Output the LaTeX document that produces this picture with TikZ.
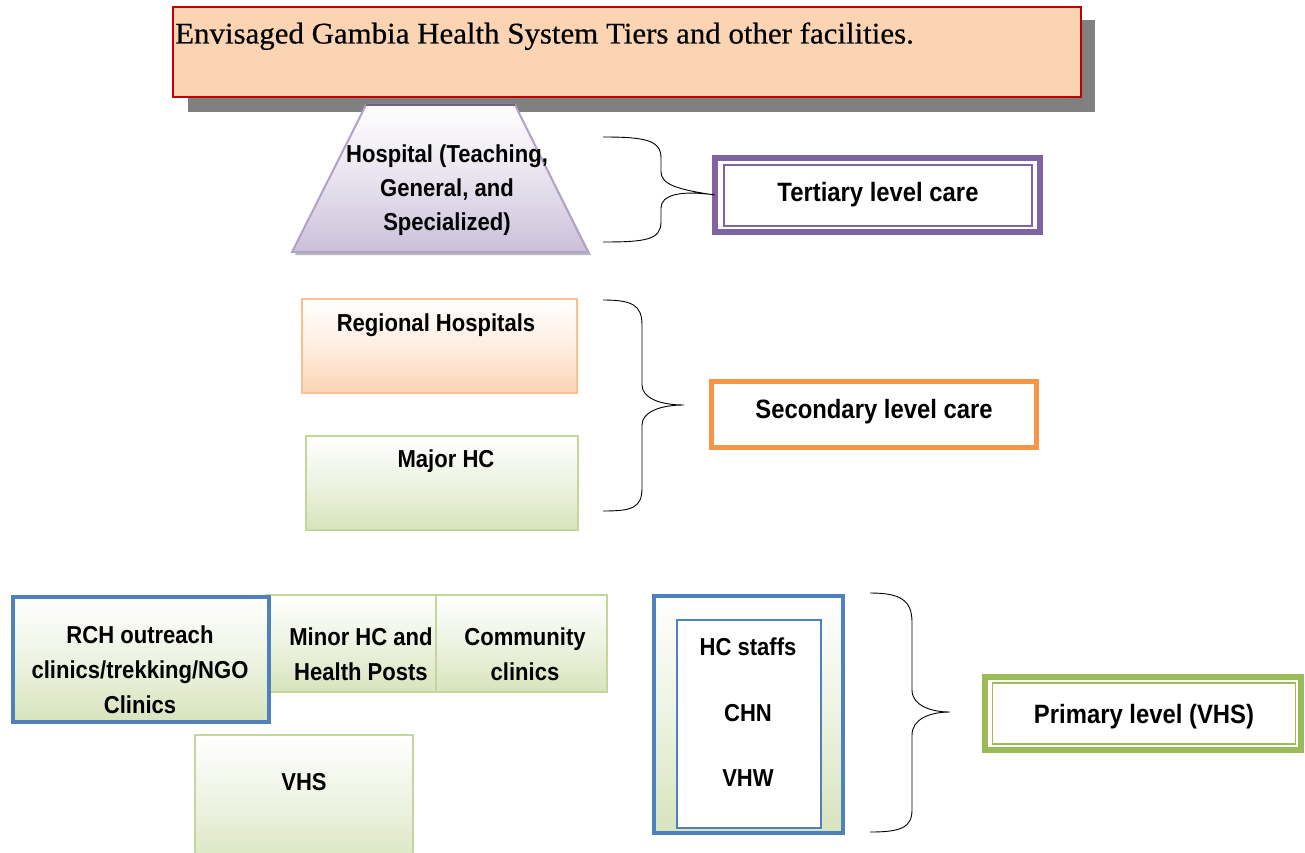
\documentclass[tikz,border=0pt]{standalone}
\usepackage{fontspec}
\setmainfont{Liberation Sans}
\newfontfamily\narrowsans[FakeStretch=0.9]{Liberation Sans}
\newfontfamily\titlefont[FakeStretch=1.03,FakeBold=0.5]{Liberation Serif}
\definecolor{peach}{HTML}{FBD4B4}
\definecolor{titlered}{HTML}{C00000}
\definecolor{shadowgray}{HTML}{808080}
\definecolor{lav}{HTML}{CCC0DA}
\definecolor{lavborder}{HTML}{B3A2C7}
\definecolor{lavdark}{HTML}{6E5E8A}
\definecolor{purp}{HTML}{8064A2}
\definecolor{orng}{HTML}{F79646}
\definecolor{orngl}{HTML}{FAC090}
\definecolor{grnl}{HTML}{D7E4BD}
\definecolor{grnborder}{HTML}{C3D69B}
\definecolor{blu}{HTML}{4F81BD}
\definecolor{grn}{HTML}{9BBB59}
\tikzset{
  plainbox/.style={rectangle, inner sep=0pt, outer sep=0pt},
  peachbox/.style={plainbox, draw=orngl, line width=2.5pt, top color=white, bottom color=peach, middle color=peach!40},
  greenbox/.style={plainbox, draw=grnborder, line width=2.5pt, top color=white, bottom color=grnl, middle color=grnl!45},
  bluebox/.style={plainbox, draw=blu, line width=4pt, top color=white, bottom color=grnl, middle color=grnl!45},
  levelbox/.style={plainbox, fill=white, line width=6pt},
  innerline/.style={plainbox, line width=1.6pt},
  boxtext/.style={font=\narrowsans\bfseries\fontsize{24.5}{34.5}\selectfont, align=center, inner sep=0pt},
  leveltext/.style={font=\narrowsans\bfseries\fontsize{26.5}{30}\selectfont, inner sep=0pt},
  bracepath/.style={draw=black, line width=0.9pt}
}
\begin{document}
\begin{tikzpicture}[x=1pt,y=-1pt]
\useasboundingbox (0,0) rectangle (1305,853);
\clip (0,0) rectangle (1305,853);
\fill[white] (0,0) rectangle (1305,853);

% title
\node[plainbox, fill=shadowgray, minimum width=907, minimum height=92] (titleshadow) at (641.5,66) {};
\node[plainbox, fill=peach, draw=titlered, line width=2pt, minimum width=908, minimum height=90] (title) at (627,52) {};
\node[font=\titlefont\fontsize{30}{32}\selectfont, anchor=base west, inner sep=0pt] (titletext) at (175,43.5) {Envisaged Gambia Health System Tiers and other facilities.};

% trapezoid hospital
\fill[gray!55] (368,108) -- (517,108) -- (591,255) -- (295,255) -- cycle;
\shade[top color=white, bottom color=lav, middle color=lav!45, draw=lavborder, line width=2pt]
  (366,105) coordinate (hosptl) -- (515,105) coordinate (hosptr) -- (588,252) coordinate (hospbr) -- (292,252) coordinate (hospbl) -- cycle;
\draw[lavdark, line width=2pt] (hosptl) -- (hosptr);
\node[boxtext, font=\narrowsans\bfseries\fontsize{24.5}{34}\selectfont, anchor=center] (hosp) at (447,190.5) {Hospital (Teaching,\\General, and\\Specialized)};

% tertiary
\node[levelbox, draw=purp, minimum width=325, minimum height=74] (tert) at (877.5,195) {};
\node[innerline, draw=purp, minimum width=308, minimum height=61] (tertin) at (878,195.5) {};
\node[leveltext, anchor=base] (terttext) at (878,201) {Tertiary level care};
\coordinate (b1top) at (603,137);
\coordinate (b1bot) at (603,242);
\draw[bracepath] (b1top) .. controls (645,137) and (661,140) .. (661,158) -- (661,172)
  .. controls (661,185) and (680,190) .. (tert.west)
  .. controls (680,190) and (661,195) .. (661,208) -- (661,222)
  .. controls (661,240) and (645,242) .. (b1bot);

% secondary
\node[peachbox, minimum width=275, minimum height=94] (reg) at (439.5,346) {};
\node[boxtext, anchor=base] (regtext) at (436,331) {Regional Hospitals};
\node[greenbox, minimum width=272, minimum height=94] (major) at (442,483) {};
\node[boxtext, anchor=base] (majortext) at (446,467.5) {Major HC};
\node[levelbox, draw=orng, line width=5pt, minimum width=325, minimum height=66] (sec) at (874,414.5) {};
\node[leveltext, anchor=base] (sectext) at (874,418.5) {Secondary level care};
\coordinate (b2top) at (603,300);
\coordinate (b2tip) at (684,405);
\coordinate (b2bot) at (603,511);
\draw[bracepath] (b2top) .. controls (632,300) and (642,305) .. (642,325) -- (642,385)
  .. controls (642,398) and (660,405) .. (b2tip)
  .. controls (660,405) and (642,412) .. (642,425) -- (642,488)
  .. controls (642,508) and (632,511) .. (b2bot);

% primary facilities
\node[greenbox, minimum width=171, minimum height=97] (minor) at (352,643.5) {};
\node[greenbox, minimum width=171, minimum height=97] (comm) at (521.5,643.5) {};
\node[bluebox, minimum width=256, minimum height=125] (rch) at (141,659.5) {};
\node[boxtext, font=\narrowsans\bfseries\fontsize{24.5}{35}\selectfont, anchor=center] (rchtext) at (140,670) {RCH outreach\\clinics/trekking/NGO\\Clinics};
\node[boxtext, font=\narrowsans\bfseries\fontsize{24.5}{35}\selectfont, anchor=center] (minortext) at (361,654) {Minor HC and\\Health Posts};
\node[boxtext, font=\narrowsans\bfseries\fontsize{24.5}{35}\selectfont, anchor=center] (commtext) at (525,654) {Community\\clinics};
\node[greenbox, minimum width=218, minimum height=135] (vhs) at (304,802.5) {};
\node[boxtext, anchor=base] (vhstext) at (304,790) {VHS};

% staff
\node[bluebox, minimum width=189, minimum height=237] (staffout) at (748.5,714.5) {};
\node[plainbox, draw=blu, fill=white, line width=2pt, minimum width=144, minimum height=208] (staffin) at (749,724) {};
\node[boxtext, font=\narrowsans\bfseries\fontsize{24.5}{65.5}\selectfont, anchor=center] (stafftext) at (748,712.5) {HC staffs\\CHN\\VHW};

% primary level
\node[levelbox, draw=grn, minimum width=316, minimum height=73] (prim) at (1143,713.5) {};
\node[innerline, draw=grn, minimum width=303, minimum height=61] (primin) at (1144,713.5) {};
\node[leveltext, anchor=base] (primtext) at (1144,723) {Primary level (VHS)};
\coordinate (b3top) at (870,593);
\coordinate (b3tip) at (950,712);
\coordinate (b3bot) at (870,832);
\draw[bracepath] (b3top) .. controls (900,593) and (912,600) .. (912,622) -- (912,690)
  .. controls (912,705) and (930,712) .. (b3tip)
  .. controls (930,712) and (912,719) .. (912,735) -- (912,810)
  .. controls (912,828) and (900,832) .. (b3bot);
\end{tikzpicture}
\end{document}
